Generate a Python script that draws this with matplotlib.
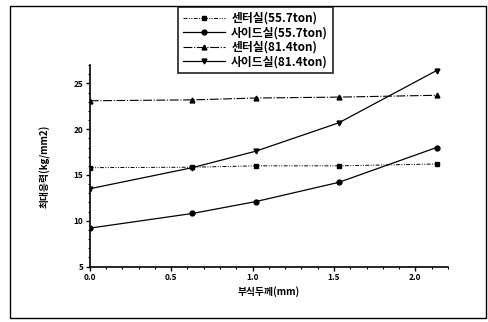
import matplotlib
matplotlib.use("Agg")
import matplotlib.pyplot as plt
from matplotlib.patches import Rectangle
from matplotlib.ticker import MultipleLocator, FormatStrFormatter

plt.rcParams["font.family"] = ["Noto Sans CJK KR", "DejaVu Sans"]

thickness = [0.0, 0.63, 1.02, 1.53, 2.13]
center_557 = [15.8, 15.85, 16.0, 16.0, 16.2]
side_557 = [9.2, 10.8, 12.1, 14.2, 18.0]
center_814 = [23.1, 23.2, 23.4, 23.5, 23.7]
side_814 = [13.5, 15.8, 17.6, 20.7, 26.4]
labels = ["센터실(55.7ton)", "사이드실(55.7ton)", "센터실(81.4ton)", "사이드실(81.4ton)"]

fig = plt.figure(figsize=(4.88, 3.22), dpi=100)
ax = fig.add_axes([0.184, 0.172, 0.734, 0.626])

ax.plot(thickness, center_557, color="black", lw=0.7, ls=(0, (4, 1.5, 1, 1.5, 1, 1.5)),
        marker="s", ms=3, label=labels[0])
ax.plot(thickness, side_557, color="black", lw=0.9, ls="-",
        marker="o", ms=3.5, label=labels[1])
ax.plot(thickness, center_814, color="black", lw=0.8, ls=(0, (8, 1.5, 1, 1.5)),
        marker="^", ms=3.5, label=labels[2])
ax.plot(thickness, side_814, color="black", lw=0.9, ls="-",
        marker="v", ms=3.5, label=labels[3])

ax.set_xlim(0, 2.2)
ax.set_ylim(5, 27)
ax.xaxis.set_major_locator(MultipleLocator(0.5))
ax.xaxis.set_minor_locator(MultipleLocator(0.1))
ax.yaxis.set_major_locator(MultipleLocator(5))
ax.yaxis.set_minor_locator(MultipleLocator(1))
ax.xaxis.set_major_formatter(FormatStrFormatter("%.1f"))
for side in ("top", "right"):
    ax.spines[side].set_visible(False)
ax.spines["left"].set_linewidth(1.2)
ax.spines["bottom"].set_linewidth(1.2)
ax.tick_params(which="major", length=3, width=1, labelsize=6, pad=1.5)
ax.tick_params(which="minor", length=1.5, width=0.8)
for t in ax.get_xticklabels() + ax.get_yticklabels():
    t.set_fontweight("bold")

ax.set_xlabel("부식두께(mm)", fontsize=7, fontweight="bold", labelpad=3)
ax.set_ylabel("최대응력(kg/mm2)", fontsize=7, fontweight="bold", labelpad=17)

leg = fig.legend(loc="upper left", bbox_to_anchor=(0.365, 0.978), borderaxespad=0,
                 prop={"weight": "bold", "size": 8.5}, frameon=True, fancybox=False,
                 handlelength=3.6, handletextpad=0.5, borderpad=0.4, labelspacing=0.12)
leg.get_frame().set_edgecolor("black")
leg.get_frame().set_linewidth(1.3)

fig.patches.append(Rectangle((0.02, 0.012), 0.975, 0.97, transform=fig.transFigure,
                             fill=False, edgecolor="black", lw=1.0))

fig.savefig("out.png", dpi=100)
